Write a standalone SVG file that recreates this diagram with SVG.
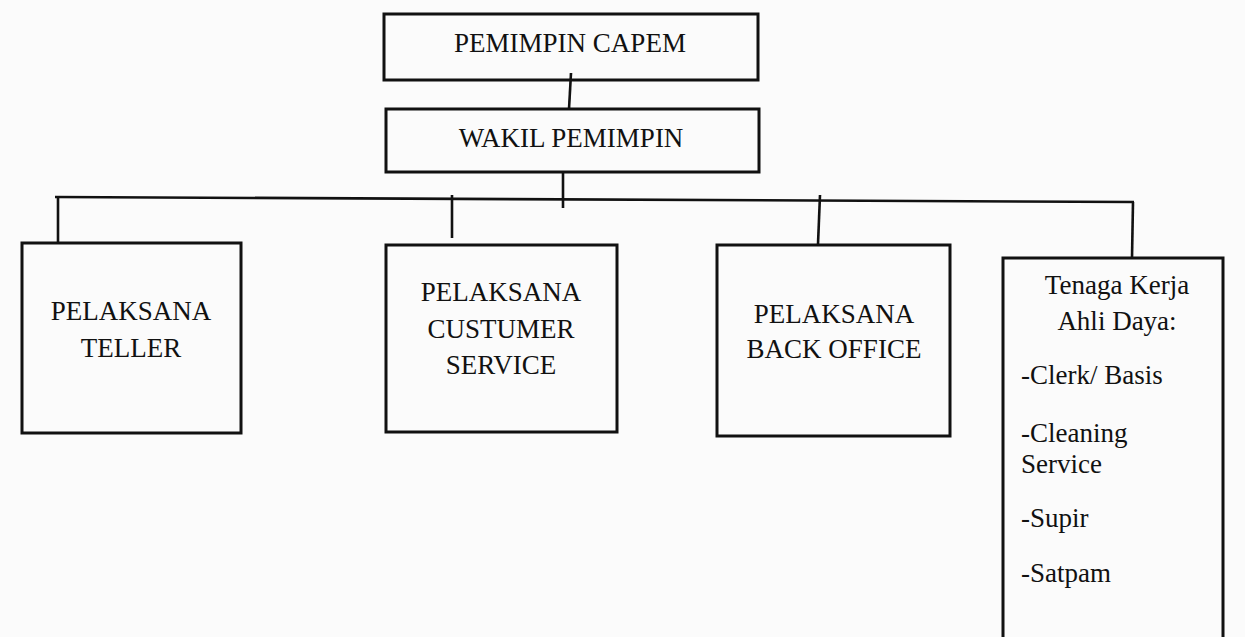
<svg xmlns="http://www.w3.org/2000/svg" width="1245" height="637" viewBox="0 0 1245 637">
  <style>
    .box { fill: none; stroke: #111; stroke-width: 3; }
    .ln { fill: none; stroke: #111; stroke-width: 2.6; stroke-linecap: butt; }
    .t { font-family: "Liberation Serif", "Times New Roman", serif; font-size: 27px; fill: #111; }
    .c { text-anchor: middle; }
  </style>
  <rect x="0" y="0" width="1245" height="637" fill="#fbfbfb"/>

  <g id="connectors">
    <line class="ln" x1="571" y1="73" x2="569" y2="109"/>
    <line class="ln" x1="563" y1="172" x2="563" y2="208"/>
    <line class="ln" x1="55" y1="197" x2="1134" y2="202"/>
    <line class="ln" x1="58" y1="197" x2="58" y2="243"/>
    <line class="ln" x1="452" y1="195" x2="452" y2="238"/>
    <line class="ln" x1="820" y1="195" x2="818" y2="244"/>
    <line class="ln" x1="1133" y1="202" x2="1132" y2="258"/>
  </g>

  <g id="pemimpin-capem">
    <rect class="box" x="384" y="14" width="374" height="66"/>
    <text class="t c" x="570" y="52">PEMIMPIN CAPEM</text>
  </g>

  <g id="wakil-pemimpin">
    <rect class="box" x="386" y="109" width="373" height="63"/>
    <text class="t c" x="571" y="147">WAKIL PEMIMPIN</text>
  </g>

  <g id="pelaksana-teller">
    <rect class="box" x="22" y="243" width="219" height="190"/>
    <text class="t c" x="131" y="320">PELAKSANA</text>
    <text class="t c" x="131" y="357">TELLER</text>
  </g>

  <g id="pelaksana-cs">
    <rect class="box" x="386" y="245" width="231" height="187"/>
    <text class="t c" x="501" y="301">PELAKSANA</text>
    <text class="t c" x="501" y="338">CUSTUMER</text>
    <text class="t c" x="501" y="374">SERVICE</text>
  </g>

  <g id="pelaksana-back-office">
    <rect class="box" x="717" y="245" width="233" height="191"/>
    <text class="t c" x="834" y="323">PELAKSANA</text>
    <text class="t c" x="834" y="358">BACK OFFICE</text>
  </g>

  <g id="tenaga-kerja">
    <rect class="box" x="1003" y="258" width="220" height="390"/>
    <text class="t c" x="1117" y="294">Tenaga Kerja</text>
    <text class="t c" x="1117" y="330">Ahli Daya:</text>
    <text class="t" x="1021" y="384">-Clerk/ Basis</text>
    <text class="t" x="1021" y="442">-Cleaning</text>
    <text class="t" x="1021" y="473">Service</text>
    <text class="t" x="1021" y="527">-Supir</text>
    <text class="t" x="1021" y="582">-Satpam</text>
  </g>
</svg>
